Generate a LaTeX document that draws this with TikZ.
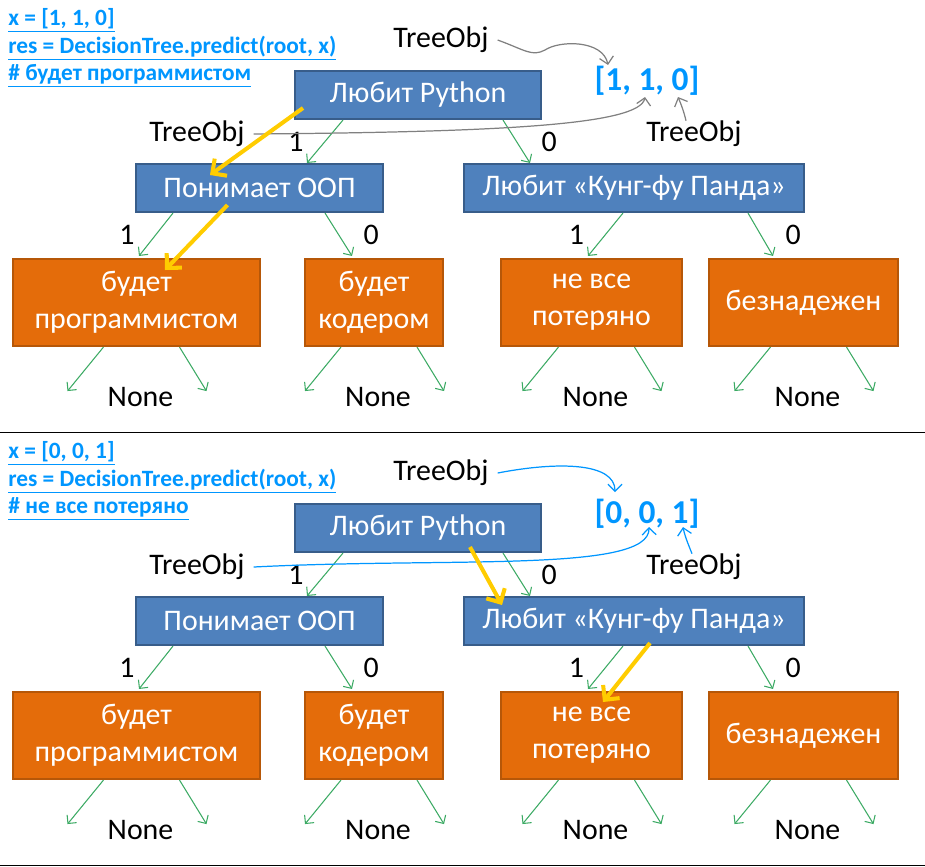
\documentclass[tikz,border=0pt]{standalone}
\usepackage{fontspec}
\setmainfont{Carlito}
\usetikzlibrary{arrows.meta}
\usetikzlibrary{calc}
\usetikzlibrary{positioning}

\definecolor{boxblue}{RGB}{79,129,189}
\definecolor{boxblueline}{RGB}{56,93,138}
\definecolor{leaforange}{RGB}{228,108,10}
\definecolor{leafline}{RGB}{182,87,8}
\definecolor{branchgreen}{RGB}{60,170,100}
\definecolor{codeblue}{RGB}{0,150,255}
\definecolor{routeyellow}{RGB}{255,204,0}

\begin{document}
\begin{tikzpicture}[
    x=0.02cm, y=-0.02cm,
    question/.style={draw=boxblueline, fill=boxblue, line width=1.2pt,
      text=white, font=\fontsize{17}{21}\selectfont,
      minimum height=0.96cm, inner sep=0pt},
    answer/.style={draw=leafline, fill=leaforange, line width=1.2pt,
      text=white, font=\fontsize{17}{21}\selectfont, align=center,
      minimum height=1.74cm, inner sep=0pt},
    plain/.style={font=\fontsize{17}{21}\selectfont, inner xsep=5pt, inner ysep=0pt},
    bit/.style={text=black, font=\fontsize{17}{21}\selectfont, inner sep=0pt},
    code/.style={text=codeblue, font=\bfseries\fontsize{13.3}{16}\selectfont,
      anchor=base west, inner sep=0pt},
    vec/.style={text=codeblue, font=\bfseries\fontsize{19}{23}\selectfont},
    branch/.style={branchgreen, line width=0.6pt, -{Straight Barb[length=3.5pt,width=7pt]}},
    route/.style={routeyellow, line width=2.3pt, -{Straight Barb[length=6pt,width=12pt]}},
    refline/.style={line width=0.7pt, -{Straight Barb[length=4pt,width=8pt]}},
  ]

  \useasboundingbox (0,0) rectangle (925,866);

  % two copies of the tree, one above the other
  \foreach \h/\dy/\vv/\res in {a/0/{1, 1, 0}/{будет программистом},
                               b/433/{0, 0, 1}/{не все потеряно}} {

    \node[code] (cx\h) at (8, {25+\dy}) {\underline{x = [\vv]}};
    \node[code] (cr\h) at (8, {53+\dy}) {\underline{res = DecisionTree.predict(root, x)}};
    \node[code] (cc\h) at (8, {80+\dy}) {\underline{\# \res}};

    \node[question, minimum width=4.92cm] (py\h) at (418, {95+\dy}) {Любит Python};
    \node[question, minimum width=4.94cm] (oop\h) at (259.5, {188+\dy}) {Понимает ООП};
    \node[question, minimum width=6.8cm] (kfp\h) at (634, {188+\dy}) {Любит «Кунг-фу Панда»};

    \node[answer, minimum width=4.94cm] (prog\h) at (136.5, {302.5+\dy}) {будет\\программистом};
    \node[answer, minimum width=2.76cm] (kod\h) at (374, {302.5+\dy}) {будет\\кодером};
    \node[answer, minimum width=3.62cm] (nvp\h) at (591.5, {302.5+\dy}) {не все\\потеряно};
    \node[answer, minimum width=3.78cm] (bez\h) at (803.5, {302.5+\dy}) {безнадежен};

    \node[plain] (toT\h) at (441, {40+\dy}) {TreeObj};
    \node[plain] (toL\h) at (197, {134+\dy}) {TreeObj};
    \node[plain] (toR\h) at (694, {134+\dy}) {TreeObj};
    \node[vec] (vec\h) at (647, {81+\dy}) {[\vv]};

    \draw[branch] ($(py\h.south)+(-75,0)$) -- ($(oop\h.north)+(47.5,0)$)
      node[bit, midway, left=12pt] {1};
    \draw[branch] ($(py\h.south)+(85,0)$) -- ($(kfp\h.north)+(-104,0)$)
      node[bit, midway, right=14pt] {0};
    \draw[branch] ($(oop\h.south)+(-86.5,0)$) -- ($(prog\h.north)+(2.5,-2)$)
      node[bit, midway, left=12pt] {1};
    \draw[branch] ($(oop\h.south)+(65.5,0)$) -- ($(kod\h.north)+(-22,-2)$)
      node[bit, midway, right=14pt] {0};
    \draw[branch] ($(kfp\h.south)+(-11,0)$) -- ($(nvp\h.north)+(-3.5,-2)$)
      node[bit, midway, left=12pt] {1};
    \draw[branch] ($(kfp\h.south)+(114,0)$) -- ($(bez\h.north)+(-30.5,-2)$)
      node[bit, midway, right=14pt] {0};

    \foreach \l in {prog, kod, nvp, bez} {
      \draw[branch] ($(\l\h.south)+(-33,0)$) -- +(-36,44);
      \draw[branch] ($(\l\h.south)+(43,0)$) -- +(27,44);
      \node[plain] (none\l\h) at ($(\l\h.south)+(4,50)$) {None};
    }

    \draw[line width=0.85pt] (0, {432.5+\dy}) -- (925, {432.5+\dy});
  }

  % references into the vector, upper half
  \draw[refline, gray] (toTa.east) .. controls (525,50) and (532,57) .. (545,50)
    .. controls (560,40) and (603,40) .. ($(veca.center)+(-39,-16)$);
  \draw[refline, gray] (toLa.east) .. controls (500,132) and (640,125)
    .. ($(veca.center)+(-2,16)$);
  \draw[refline, gray] ($(toRa.north)+(-8,0)$) .. controls (684,112) and (681,104)
    .. ($(veca.center)+(31,16)$);

  % references into the vector, lower half
  \draw[refline, codeblue] (toTb.east) .. controls (560,461) and (615,463)
    .. ($(vecb.center)+(-32,-22)$);
  \draw[refline, codeblue] (toLb.east) .. controls (450,557) and (650,573)
    .. ($(vecb.center)+(2,13)$);
  \draw[refline, codeblue] ($(toRb.north)+(-2,0)$) .. controls (689,546) and (685,537)
    .. ($(vecb.center)+(36,13)$);

  % path taken by predict
  \draw[route] ($(pya.center)+(-115,13)$) -- ($(oopa.center)+(-49.5,-13)$);
  \draw[route] ($(oopa.center)+(-32,17)$) -- ($(proga.center)+(28.5,-32.5)$);
  \draw[route] ($(pyb.center)+(52,19)$) -- ($(kfpb.center)+(-132,-16)$);
  \draw[route] ($(kfpb.center)+(16,22)$) -- ($(nvpb.center)+(11.5,-33.5)$);

\end{tikzpicture}
\end{document}
